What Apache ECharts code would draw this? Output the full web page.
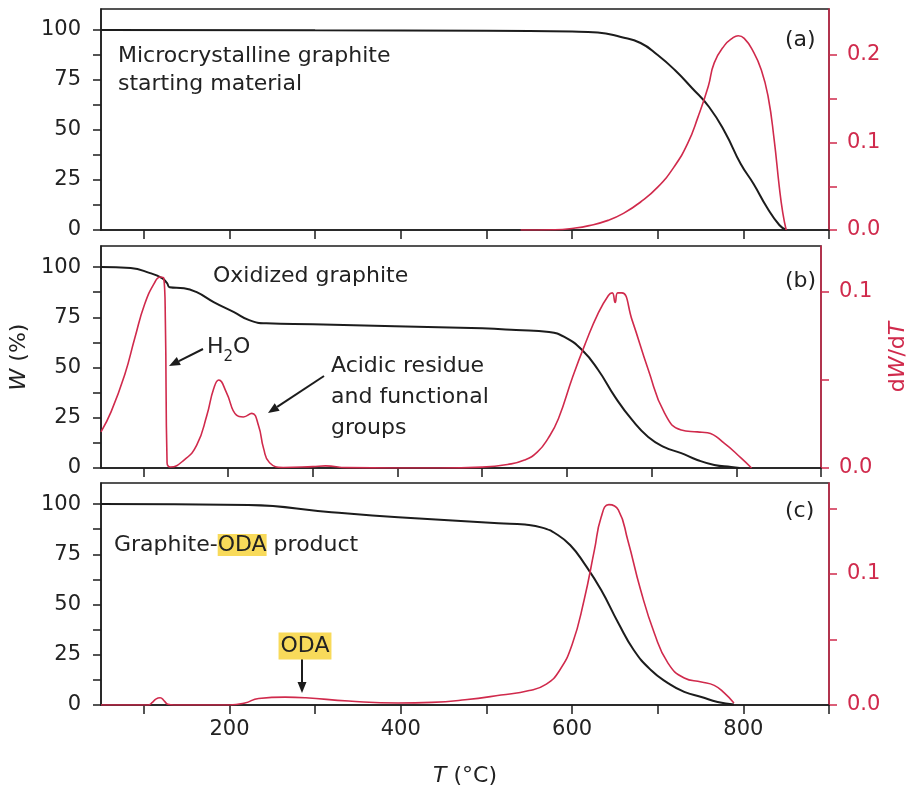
<!DOCTYPE html>
<html><head><meta charset="utf-8">
<script src="https://cdn.jsdelivr.net/npm/echarts@6/dist/echarts.min.js"></script>
<style>html,body{margin:0;padding:0;background:#fff}#c{width:917px;height:789px}</style>
</head><body><div id="c"></div>
<script>
// ---------- axis ticks / labels ----------
const xTickValues = [100, 200, 300, 400, 500, 600, 700, 800, 900];
const xLabelValues = [200, 400, 600, 800];
const wTickValues = [0, 12.5, 25, 37.5, 50, 62.5, 75, 87.5, 100];
const wLabelValues = [0, 25, 50, 75, 100];
const dTicksA = [0, 0.05, 0.1, 0.15, 0.2];
const dLabelsA = [0, 0.1, 0.2];
const dTicksB = [0, 0.05, 0.1];
const dLabelsB = [0, 0.1];
const dTicksC = [0, 0.05, 0.1, 0.15];
const dLabelsC = [0, 0.1];

// ---------- (a) microcrystalline graphite ----------
const aTempW = [50, 300, 500, 600, 630, 657, 680, 700, 720, 740, 760, 779, 797, 812, 828, 842, 850];
const aW     = [100, 99.9, 99.6, 99.2, 98.8, 96.5, 93.5, 87.5, 80, 71, 61.5, 48.5, 33, 23, 11, 2.5, 0];
const aTempD = [540, 580, 602, 620, 642, 660, 680, 700, 719, 735, 747, 759, 766, 778, 787, 794, 801, 811, 821, 829, 836, 842, 846, 850];
const aD     = [0, 0.0003, 0.002, 0.005, 0.011, 0.019, 0.032, 0.049, 0.072, 0.099, 0.129, 0.164, 0.191, 0.211, 0.219, 0.222, 0.219, 0.205, 0.183, 0.152, 0.103, 0.049, 0.02, 0];

// ---------- (b) oxidized graphite ----------
const bTempW = [50, 85, 108, 122, 128, 131, 148, 163, 183, 207, 225, 245, 300, 397, 500, 540, 579, 598, 618, 637, 657, 677, 696, 715, 735, 754, 774, 794, 804];
const bW     = [100, 99.5, 97, 94.5, 92, 90, 89.5, 87.5, 82.6, 77.6, 73.6, 72, 71.5, 70.6, 69.5, 68.7, 67.7, 65, 58.7, 48.8, 35.3, 23.9, 15.4, 10.4, 7.4, 4, 1.5, 0.5, 0];
const bTempD = [50, 62, 78, 90, 101.5, 113, 120, 124, 126, 128, 132, 148, 163, 175, 183, 189, 198, 210, 218, 228, 236, 242, 249, 265, 300, 315, 340, 400, 450, 500, 530, 550, 565, 578, 590, 607, 622, 637, 649, 653.5, 657, 660, 665, 677, 696, 715.5, 735, 754, 766, 786, 805.5, 818];
const bD     = [0.0205, 0.032, 0.053, 0.074, 0.093, 0.105, 0.1085, 0.108, 0.083, 0.003, 0.0006, 0.0045, 0.013, 0.030, 0.045, 0.050, 0.043, 0.030, 0.029, 0.031, 0.024, 0.011, 0.003, 0.0003, 0.0008, 0.0012, 0.0002, 0, 0, 0.0005, 0.002, 0.0045, 0.009, 0.017, 0.028, 0.052, 0.071, 0.088, 0.098, 0.0995, 0.094, 0.0995, 0.0995, 0.084, 0.056, 0.031, 0.0216, 0.0205, 0.020, 0.014, 0.0057, 0];

// ---------- (c) graphite-ODA product ----------
const cTempW = [50, 222, 319, 397, 514, 545, 565, 582, 598, 614, 634, 654, 672, 692, 712, 731, 751, 770, 789];
const cW     = [100, 99.5, 96, 93.5, 90.5, 89.8, 88.3, 85, 79.5, 70.6, 57.2, 40.8, 27.4, 17.4, 10.9, 6.5, 4, 1.5, 0.3];
const cTempD = [50, 100, 105, 110, 114, 119, 124, 128, 135, 200, 218, 234, 265, 289, 339, 397, 436, 475, 517, 550, 570, 585, 600, 614, 626, 634, 643, 654, 665, 680, 696, 712, 731, 751, 766, 778, 789];
const cD     = [0, 0, 0, 0.002, 0.0045, 0.0055, 0.003, 0.0005, 0, 0, 0.0015, 0.005, 0.006, 0.0055, 0.003, 0.0015, 0.002, 0.004, 0.0076, 0.011, 0.016, 0.026, 0.046, 0.080, 0.118, 0.1435, 0.153, 0.149, 0.126, 0.088, 0.055, 0.032, 0.0206, 0.0176, 0.015, 0.009, 0.0015];

// ---------- styling ----------
const FONT = 'DejaVu Sans';
const BLACK = '#1c1c1c';
const RED = '#d02a4c';
const TXT = '#222';
const YEL = '#f8da5a';

function zip(xs, ys) { return xs.map((x, i) => [x, ys[i]]); }

const grids = [
  { left: 101, right: 88, top: 9, height: 221 },
  { left: 101, right: 88, top: 246, height: 222 },
  { left: 101, right: 88, top: 483, height: 222 }
].map(g => Object.assign(g, { show: true, borderColor: BLACK, borderWidth: 1.5, backgroundColor: 'transparent' }));

function xAxis(i) {
  return {
    type: 'value', gridIndex: i, min: 50, max: 900,
    axisLine: { show: true, onZero: false, lineStyle: { color: BLACK, width: 1.5 } },
    axisTick: { show: true, inside: false, length: 9, customValues: xTickValues, lineStyle: { color: BLACK, width: 1.5 } },
    axisLabel: { show: i === 2, customValues: xLabelValues, margin: 14, fontSize: 21, fontFamily: FONT, color: TXT },
    splitLine: { show: false },
    name: i === 2 ? '{i|T} (°C)' : '',
    nameLocation: 'middle', nameGap: 60,
    nameTextStyle: { fontSize: 22, fontFamily: FONT, color: TXT,
      rich: { i: { fontStyle: 'italic', fontSize: 22, fontFamily: FONT, color: TXT } } }
  };
}
function yLeft(i) {
  return {
    type: 'value', gridIndex: i, min: 0, max: 110.5, position: 'left',
    axisLine: { show: true, onZero: false, lineStyle: { color: BLACK, width: 1.5 } },
    axisTick: { show: true, length: 8, customValues: wTickValues, lineStyle: { color: BLACK, width: 1.5 } },
    axisLabel: { customValues: wLabelValues, margin: 20, fontSize: 21, fontFamily: FONT, color: TXT },
    splitLine: { show: false },
    name: i === 1 ? '{i|W} (%)' : '',
    nameLocation: 'middle', nameGap: 63,
    nameTextStyle: { fontSize: 22, fontFamily: FONT, color: TXT,
      rich: { i: { fontStyle: 'italic', fontSize: 22, fontFamily: FONT, color: TXT } } }
  };
}
function yRight(i, max, ticks, labels) {
  return {
    type: 'value', gridIndex: i, min: 0, max: max, position: 'right',
    axisLine: { show: true, onZero: false, lineStyle: { color: RED, width: 1.5 } },
    axisTick: { show: true, length: 8, customValues: ticks, lineStyle: { color: RED, width: 1.5 } },
    axisLabel: { customValues: labels, margin: 18, fontSize: 21, fontFamily: FONT, color: RED,
      formatter: v => Number(v).toFixed(1) },
    splitLine: { show: false },
    name: i === 1 ? 'd{i|W}/d{i|T}' : '',
    nameLocation: 'middle', nameGap: 66,
    nameTextStyle: { fontSize: 22, fontFamily: FONT, color: RED,
      rich: { i: { fontStyle: 'italic', fontSize: 22, fontFamily: FONT, color: RED } } }
  };
}

function line(xi, yi, data, color, width) {
  return {
    type: 'line', xAxisIndex: xi, yAxisIndex: yi, data: data,
    showSymbol: false, symbol: 'none', smooth: 0.5,
    lineStyle: { color: color, width: width }, silent: true
  };
}

function arrow(x1, y1, x2, y2) {
  const a = Math.atan2(y2 - y1, x2 - x1), L = 11, W = 4.5;
  const bx = x2 - L * Math.cos(a), by = y2 - L * Math.sin(a);
  const px = -Math.sin(a) * W, py = Math.cos(a) * W;
  return [
    { type: 'line', shape: { x1: x1, y1: y1, x2: bx, y2: by }, style: { stroke: BLACK, lineWidth: 2 } },
    { type: 'polygon', shape: { points: [[x2, y2], [bx + px, by + py], [bx - px, by - py]] }, style: { fill: BLACK } }
  ];
}
function txt(x, y, text, extra) {
  return { type: 'text', x: x, y: y, z: 10,
    style: Object.assign({ text: text, fontSize: 22, fontFamily: FONT, fill: TXT, align: 'left', verticalAlign: 'middle' }, extra || {}) };
}

const graphics = [
  txt(118, 56, 'Microcrystalline graphite'),
  txt(118, 84, 'starting material'),
  txt(785, 40, '(a)'),
  txt(785, 281, '(b)'),
  txt(785, 511, '(c)'),
  txt(213, 276, 'Oxidized graphite'),
  txt(207, 347, 'H{sub|2}O', { rich: { sub: { fontSize: 15, fontFamily: FONT, fill: TXT, verticalAlign: 'bottom', lineHeight: 36 } } }),
  txt(331, 366, 'Acidic residue'),
  txt(331, 397, 'and functional'),
  txt(331, 428, 'groups'),
  txt(114, 545, '{n|Graphite-}{h|ODA}{n| product}', { rich: {
    n: { fontSize: 22, fontFamily: FONT, fill: TXT },
    h: { fontSize: 22, fontFamily: FONT, fill: TXT, backgroundColor: YEL, lineHeight: 27 } } }),
  txt(305, 646, 'ODA', { align: 'center', backgroundColor: YEL, padding: [3, 2, 2, 2] }),
  ...arrow(203, 349, 169, 366),
  ...arrow(324, 376, 268, 413),
  ...arrow(302, 659, 302, 693)
];

const option = {
  animation: false,
  backgroundColor: '#fff',
  grid: grids,
  xAxis: [xAxis(0), xAxis(1), xAxis(2)],
  yAxis: [
    yLeft(0), yRight(0, 0.2526, dTicksA, dLabelsA),
    yLeft(1), yRight(1, 0.1261, dTicksB, dLabelsB),
    yLeft(2), yRight(2, 0.1695, dTicksC, dLabelsC)
  ],
  series: [
    line(0, 0, zip(aTempW, aW), BLACK, 2),
    line(0, 1, zip(aTempD, aD), RED, 1.6),
    line(1, 2, zip(bTempW, bW), BLACK, 2),
    line(1, 3, zip(bTempD, bD), RED, 1.6),
    line(2, 4, zip(cTempW, cW), BLACK, 2),
    line(2, 5, zip(cTempD, cD), RED, 1.6)
  ],
  graphic: graphics
};

const chart = echarts.init(document.getElementById('c'), null, { renderer: 'canvas' });
chart.setOption(option);
</script>
</body></html>
